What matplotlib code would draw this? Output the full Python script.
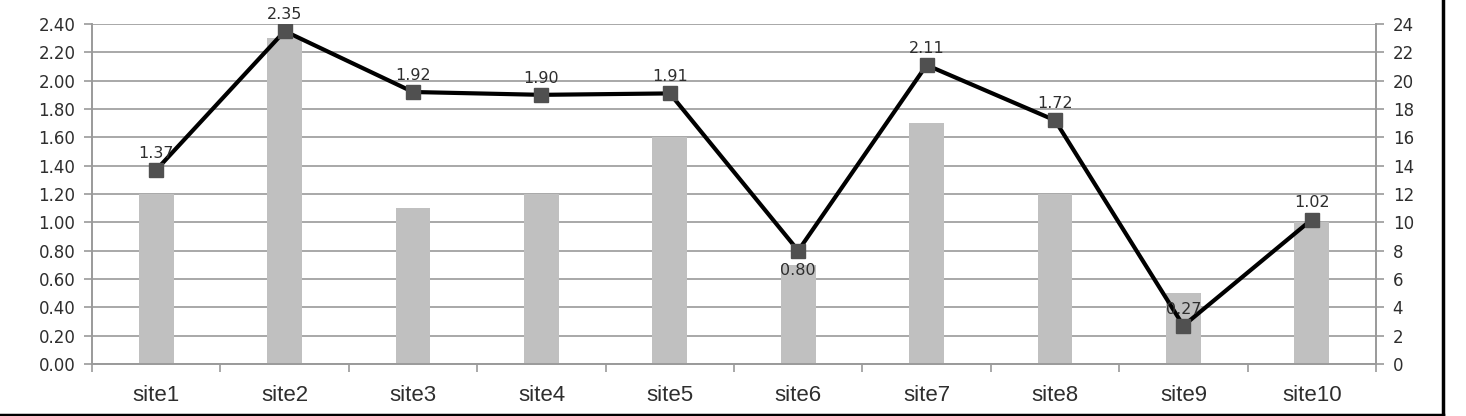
import numpy as np
import matplotlib
matplotlib.use('Agg')
import matplotlib.pyplot as plt
from matplotlib.lines import Line2D

# chart data
sites = ['site1', 'site2', 'site3', 'site4', 'site5',
         'site6', 'site7', 'site8', 'site9', 'site10']
bar_vals = [12, 23, 11, 12, 16, 7, 17, 12, 5, 10]
line_vals = [1.37, 2.35, 1.92, 1.90, 1.91, 0.80, 2.11, 1.72, 0.27, 1.02]
label_below = [False, False, False, False, False, True, False, False, False, False]

left_ticks = np.arange(0, 2.41, 0.2)
right_ticks = np.arange(0, 25, 2)

fig = plt.figure(figsize=(14.66, 4.16), dpi=100)
ax = fig.add_axes([0.0628, 0.125, 0.8758, 0.8173])
ax2 = ax.twinx()

x = np.arange(len(sites))
txt = '#2e2e2e'
grid_c = '#9a9a9a'

# bars on the secondary (right) axis, drawn underneath
ax2.bar(x, bar_vals, width=0.27, color='#c0c0c0', zorder=1)
ax2.set_ylim(0, 24)
ax2.set_yticks(right_ticks)
ax2.set_yticklabels(['%d' % v for v in right_ticks], fontsize=12, color=txt)

# gridlines + line on the primary axis
ax.set_zorder(ax2.get_zorder() + 1)
ax.patch.set_visible(False)
ax.set_ylim(0, 2.4)
ax.set_xlim(-0.5, len(sites) - 0.5)
ax.set_yticks(left_ticks)
ax.set_yticklabels(['%.2f' % v for v in left_ticks], fontsize=12, color=txt)
for v in left_ticks:
    ax2.axhline(v * 10, color=grid_c, lw=1.2, zorder=0)

ax.plot(x, line_vals, color='black', lw=3, marker='s', markersize=10,
        markerfacecolor='#505050', markeredgecolor='#505050', zorder=3)

for xi, v, below in zip(x, line_vals, label_below):
    if below:
        ax.annotate('%.2f' % v, (xi, v), xytext=(0, -14), textcoords='offset points',
                    ha='center', va='center', fontsize=11.5, color=txt, zorder=4)
    else:
        ax.annotate('%.2f' % v, (xi, v), xytext=(0, 12), textcoords='offset points',
                    ha='center', va='center', fontsize=11.5, color=txt, zorder=4)

# x axis: category labels, ticks between categories
ax.set_xticks(x)
ax.set_xticklabels(sites, fontsize=16, color=txt, family='Liberation Sans')
ax.tick_params(axis='x', which='major', length=0, pad=15)
ax.set_xticks(np.arange(-0.5, len(sites)), minor=True)
ax.tick_params(axis='x', which='minor', length=6, color=grid_c, width=1.2, direction='out')
ax.tick_params(axis='y', length=6, color=grid_c, width=1.2, pad=6)
ax2.tick_params(axis='y', length=6, color=grid_c, width=1.2, pad=6)

for a in (ax, ax2):
    a.spines['top'].set_visible(False)
    for s in ('left', 'right', 'bottom'):
        a.spines[s].set_color(grid_c)
        a.spines[s].set_linewidth(1.2)

# outer frame pieces visible in the reference (bottom and right edges)
fig.add_artist(Line2D([0, 0.9845], [0.003, 0.003], color='black', lw=2.5,
                      transform=fig.transFigure))
fig.add_artist(Line2D([0.9845, 0.9845], [0.003, 1.0], color='black', lw=2.5,
                      transform=fig.transFigure))

fig.savefig('out.png', dpi=100)
